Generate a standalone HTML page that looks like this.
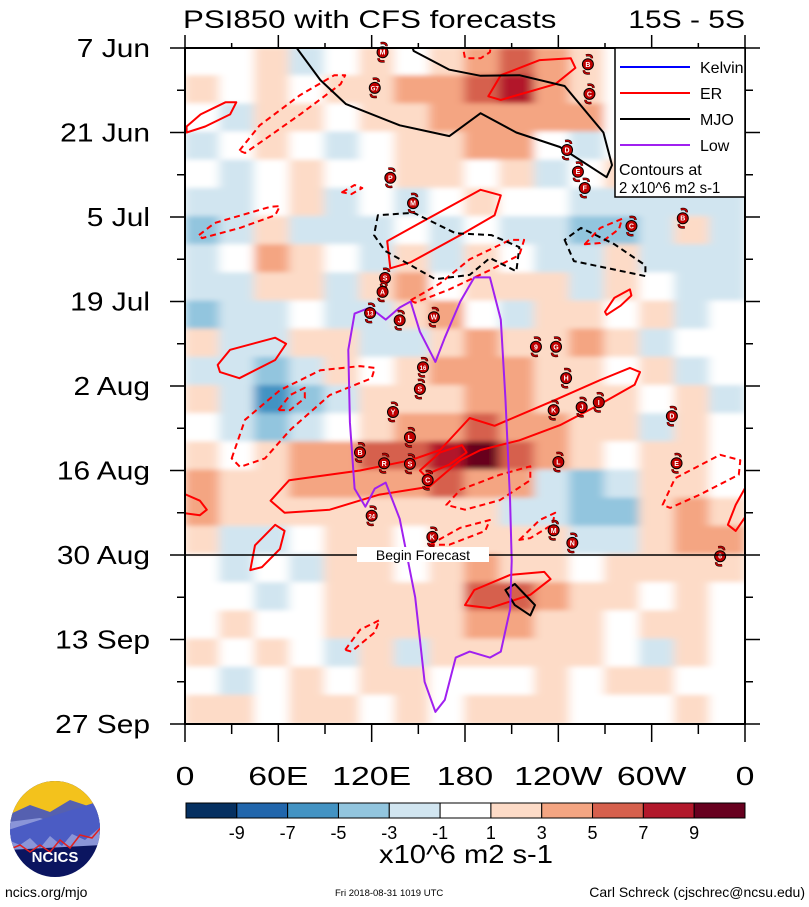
<!DOCTYPE html>
<html><head><meta charset="utf-8"><title>PSI850 with CFS forecasts</title>
<style>
body{margin:0;background:#fff;width:809px;height:907px;overflow:hidden;font-family:"Liberation Sans",Arial,sans-serif}
svg{display:block}
</style></head>
<body>
<svg id="chart" width="809" height="907" viewBox="0 0 809 907" xmlns="http://www.w3.org/2000/svg">
<defs>
<clipPath id="plotclip"><rect x="185" y="48" width="560" height="676"/></clipPath>
<filter id="soft" x="-5%" y="-5%" width="110%" height="110%"><feGaussianBlur stdDeviation="5 2.5"/></filter>
<clipPath id="logoclip"><ellipse cx="55" cy="829" rx="45" ry="48"/></clipPath>
</defs>
<text id="title" x="183" y="28" font-size="25" fill="#000">PSI850 with CFS forecasts</text>
<text id="band" x="745" y="28" font-size="25" text-anchor="end" fill="#000">15S - 5S</text>
<g clip-path="url(#plotclip)"><rect x="185" y="48" width="560" height="676" fill="#fff"/><g id="field" filter="url(#soft)"></g></g>
<g id="contours" clip-path="url(#plotclip)"></g>
<g id="storms"></g>
<g id="axes"></g>
<g id="legend"></g>
<g id="colorbar"></g>
<g>
<g clip-path="url(#logoclip)">
<rect x="8" y="780" width="95" height="100" fill="#0b1560"/>
<rect x="8" y="780" width="95" height="40" fill="#f3c21c"/>
<polygon points="8,815 30,805 50,812 70,800 100,810 103,830 8,835" fill="#5560b0"/>
<polygon points="8,822 40,818 60,825 90,815 103,820 103,845 8,850" fill="#8a95d8"/>
<polygon points="8,840 20,845 30,838 40,848 50,836 62,846 72,834 85,840 103,825 103,800 8,830" fill="#4b5cc4"/>
<polyline points="8,850 20,845 30,852 40,845 50,852 60,840 70,848 80,835 92,838 103,825" fill="none" stroke="#e02020" stroke-width="1.5"/>
</g>
<text x="55" y="862" font-size="15" font-weight="bold" fill="#fff" text-anchor="middle">NCICS</text>
</g>
<text x="5" y="897" font-size="14">ncics.org/mjo</text>
<text x="335" y="896" font-size="9.5">Fri 2018-08-31 1019 UTC</text>
<text x="805" y="897" font-size="14" text-anchor="end">Carl Schreck (cjschrec@ncsu.edu)</text>
</svg>
<script>
// ---------- data ----------
const lonTicks = [0,60,120,180,240,300,360];
const lonTickLabels = ["0","60E","120E","180","120W","60W","0"];
const dayTicks = [0,14,28,42,56,70,84,98,112];
const dayTickLabels = ["7 Jun","21 Jun","5 Jul","19 Jul","2 Aug","16 Aug","30 Aug","13 Sep","27 Sep"];
const forecastDay = 84;
const levelBounds = [-9,-7,-5,-3,-1,1,3,5,7,9];
const levelColors = ["#053061","#2166ac","#4393c3","#92c5de","#d1e5f0","#ffffff","#fddbc7","#f4a582","#d6604d","#b2182b","#67001f"];
const colorbarLabels = ["-9","-7","-5","-3","-1","1","3","5","7","9"];
// field: 24 time rows x 16 longitude columns
const fieldRows = [
[0,0,2,-2,0,2,0,2,4,6,4,2,0,2,0,0],
[2,0,2,0,2,2,3,4,6,8,4,2,0,2,2,0],
[0,-2,2,2,0,2,2,4,4,4,4,3,0,2,0,2],
[-2,0,2,0,-2,0,2,2,4,4,0,-2,0,2,0,0],
[0,-2,0,2,0,0,2,2,0,2,-2,0,2,0,0,2],
[-3,-2,0,2,-2,0,-2,0,2,0,0,-2,-3,-2,-2,-2],
[-4,-2,2,-2,-3,-2,0,-2,0,-2,-2,-4,-4,-2,2,-2],
[-2,0,3,2,0,-2,2,-2,2,0,-2,-2,2,-2,-2,-2],
[-2,-2,2,2,-2,2,3,0,2,2,2,-2,2,0,-2,-2],
[-4,-2,-2,0,-2,-3,2,3,0,-2,2,2,0,2,-2,0],
[2,-2,-2,2,2,-2,-2,2,4,2,2,3,2,-2,0,0],
[-2,-2,-4,-2,2,0,2,3,4,4,2,2,0,2,-2,0],
[2,-2,-6,-4,-2,2,2,2,4,4,2,2,2,0,2,-2],
[0,-2,-4,-2,0,2,4,4,6,4,4,2,2,-2,2,0],
[2,0,2,4,4,6,6,8,10,6,4,2,0,2,2,0],
[4,2,2,4,4,4,4,6,4,4,-2,-4,-2,2,2,0],
[4,2,2,2,2,2,2,2,2,-2,-2,-4,-4,2,4,2],
[2,-2,-2,0,2,2,0,2,2,2,2,-2,-2,2,4,4],
[0,-2,0,-2,2,2,0,2,4,2,2,0,2,2,2,2],
[0,0,-2,0,2,2,2,2,6,6,4,2,2,0,2,0],
[0,2,0,0,2,2,2,2,4,4,2,2,0,2,2,0],
[2,0,2,0,-2,2,-2,2,2,2,2,2,0,-2,2,0],
[0,-2,0,2,0,2,2,0,0,0,2,0,2,2,0,0],
[2,2,0,2,2,0,2,0,2,2,2,0,0,0,2,0]
];
// contours: [lon, day] pairs
const erSolid = [
[[1,13],[10,11],[26,9],[33,9],[29,11],[13,13],[1,14]],
[[195,8],[203,4.5],[228,2],[248,1.7],[251,3.3],[238,6],[203,8.6]],
[[132,36.5],[130,32],[151,29],[190,23.5],[203,24.4],[199,27.7],[177,31],[145,35.5]],
[[270,43.7],[276,41.4],[286,40],[287,41],[280,42.7],[271,44.2]],
[[21,52.5],[29,50],[58,48],[65,49],[58,51.7],[35,54.7],[22.5,53.7]],
[[55,75],[67,71.6],[112.5,70],[145,68.3],[164,66.6],[183,61.3],[199,62.6],[238,58.3],[267,55],[286,53],[292.5,53.7],[289,55.8],[267,59],[241,62.5],[215,65],[190,66.6],[177,68.3],[157,72.7],[125,74],[93,76.5],[64,77]],
[[151,70],[164,67],[178,65.8],[181,67],[170,69],[154,70.8]],
[[362,72],[354,75.7],[349,79],[354,80],[362,77]],
[[-2,73.7],[9.6,75],[14,76.5],[9.6,77.4],[-2,77]],
[[42,86.5],[45,82.4],[58,79],[64,80],[61,83],[49.5,86]],
[[180,92.3],[186,89.8],[209,87.3],[231,86.8],[235,88],[222,90.6],[196,92.8]]
];
const erDashed = [
[[35,17],[48,12.8],[74,7.8],[96,4.5],[103,4.5],[100,6],[74,11],[51,15.2],[38.6,17.4]],
[[9,31],[19,29],[55,26.3],[61,26.2],[58,27.7],[35.4,29.8],[11,31.5]],
[[101,23.9],[109,22.7],[114,23.2],[107,24.2]],
[[145,41.8],[164,39],[183,35],[209,31.8],[218,31.8],[215,34.3],[196,36.8],[170,40],[148,42.2]],
[[257,32.5],[267,29.8],[281,28.3],[279,30],[267,32.3]],
[[178,-1],[180,1.7],[190,1.7],[196,0.7],[197,-1]],
[[30,68],[38.6,61.6],[61,56.7],[87,53.4],[112.5,52.7],[122,53],[120,54.7],[93,57.5],[67.5,63.3],[51.4,68],[35.4,69.4]],
[[60,60],[67.5,57.5],[77,56.3],[77,58],[67.5,60]],
[[168,75.7],[177,73.2],[202.5,70.7],[222,69.3],[222,71.6],[202.5,74.9],[180,76.5]],
[[307,75.7],[315,71.3],[344,67.4],[357,68.3],[356,70.7],[331,74],[312,76.2]],
[[157.5,82.3],[177,79.5],[196,78.2],[193,80],[170,82.3]],
[[215,81.5],[228,78.2],[238,77],[236,79],[222,81.2]],
[[103,99.7],[112.5,96.4],[125,94.8],[122,96.8],[107,100]]
];
const mjoSolid = [
[[69,-1],[87,5.3],[103.5,9.3],[138,12.8],[170,14.6],[190,10.8],[213,14],[241,16.4],[271,21.4],[274.5,19.4],[269,14],[244,6.3],[215,4.5],[190,4.6],[170,3.6],[147,0.5],[145,-1]],
[[206,89.8],[212,88.8],[225,92.3],[222,94],[212,92.3]]
];
const mjoDashed = [
[[124,27.7],[121.5,31],[128.6,33.6],[161,38.3],[183,37.6],[196,34.8],[213,37],[215,33],[197,31],[174,30.7],[147,27.3]],
[[244,31.8],[250,35.3],[296,37.8],[296,36],[276,32.5],[254.6,29.8]]
];
const lowSolid = [
[[109,44],[119,43],[129,45],[138,43],[145,42],[151,47],[161,52],[167,48],[177,42],[186,38],[196,38],[203,45],[206,58],[209,75],[210,85],[209,93],[203,100],[196,101],[183,100],[174,101],[167,108],[161,110],[154,105],[148,91],[138,78],[129,72],[122,73],[116,76],[109,73],[106,62],[105,50]]
];
const stormLon = [127,122,259,260,245.6,252.6,257,132,146.6,287,320,128.6,127,119,138,160,225.6,238.5,153,245,151,133.7,237,255,266,313,144.6,112.5,128,144.6,156,240,316,120,159,237,249,344];
const stormDay = [0.7,6.6,2.7,7.6,16.9,20.5,23.2,21.5,25.7,29.5,28.2,38.1,40.4,43.9,45.1,44.6,49.5,49.5,52.9,54.7,56.5,60.3,60,59.5,58.7,61,64.5,67,68.8,68.9,71.6,68.6,68.8,77.5,81,79.9,82,84.2];
const stormLabel = ["M","G7","B","C","D","E","F","P","M","C","B","S","A","13","J","W","9","G","16","H","S","Y","K","J","I","D","L","B","R","S","C","L","E","24","K","M","N","6"];

// ---------- scales ----------
const X0=185,X1=745,Y0=48,Y1=724;
const xScale = lon => X0 + (lon/360)*(X1-X0);
const yScale = d => Y0 + (d/112)*(Y1-Y0);
const NS="http://www.w3.org/2000/svg";
function mk(tag, attrs, parent){const e=document.createElementNS(NS,tag);for(const k in attrs)e.setAttribute(k,attrs[k]);parent.appendChild(e);return e;}
function colorFor(v){let i=0;while(i<levelBounds.length && v>=levelBounds[i])i++;return levelColors[i];}
function stretch(el,f){try{const w=el.getComputedTextLength();if(w>0){el.setAttribute('textLength',(w*f).toFixed(1));el.setAttribute('lengthAdjust','spacingAndGlyphs');}}catch(e){}}

// field
const field=document.getElementById('field');
const nR=fieldRows.length, nC=fieldRows[0].length;
fieldRows.forEach((row,r)=>{row.forEach((v,c)=>{
  const x=xScale(c*360/nC), x2=xScale((c+1)*360/nC), y=yScale(r*112/nR), y2=yScale((r+1)*112/nR);
  const cell=mk('rect',{x:x-1,y:y-1,width:x2-x+2,height:y2-y+2,fill:colorFor(v)},field);
  
  
});});

// contours
const cg=document.getElementById('contours');
function drawSet(set,color,dash,name,w){set.forEach(pts=>{
  const d=pts.map((p,i)=>(i?'L':'M')+xScale(p[0]).toFixed(1)+','+yScale(p[1]).toFixed(1)).join(' ')+' Z';
  const a={d:d,fill:'none',stroke:color,'stroke-width':w,'stroke-linejoin':'round'};
  if(dash)a['stroke-dasharray']=dash;
  const p=mk('path',a,cg);
  
  
});}
drawSet(erSolid,'#ff0000',null,'er-contour-positive',2);
drawSet(erDashed,'#ff0000','6 4','er-contour-negative',2);
drawSet(mjoSolid,'#000000',null,'mjo-contour-positive',2);
drawSet(mjoDashed,'#000000','6 4','mjo-contour-negative',2);
drawSet(lowSolid,'#a020f0',null,'low-contour',2);

// forecast line
const ax=document.getElementById('axes');
const fy=yScale(forecastDay);
const fl=mk('line',{x1:X0,x2:X1,y1:fy,y2:fy,stroke:'#000','stroke-width':1.5},ax);


const fbg=mk('rect',{x:357,y:fy-8,width:132,height:15,fill:'#fff'},ax);


const ft=mk('text',{x:423,y:fy+5,'font-size':14,'text-anchor':'middle'},ax);
ft.textContent='Begin Forecast';



// storms
const sg=document.getElementById('storms');
stormLon.forEach((lon,i)=>{
  const x=xScale(lon), y=yScale(stormDay[i]);
  const g=mk('g',{},sg);
  
  
  mk('path',{d:`M${x-2},${y-9} q6,-1 6,3 M${x+2},${y+9} q-6,1 -6,-3`,stroke:'#000',fill:'none','stroke-width':2.5},g);
  mk('path',{d:`M${x-2},${y-9} q6,-1 6,3 M${x+2},${y+9} q-6,1 -6,-3`,stroke:'#c00000',fill:'none','stroke-width':1.5},g);
  mk('circle',{cx:x,cy:y,r:5.5,fill:'#c00000',stroke:'#000','stroke-width':1},g);
  const t=mk('text',{x:x,y:y+2.5,'font-size':stormLabel[i].length>1?6:7,'font-weight':'bold','text-anchor':'middle',fill:'#fff'},g);
  t.textContent=stormLabel[i];
});

// frame & ticks
const frame=mk('rect',{x:X0,y:Y0,width:X1-X0,height:Y1-Y0,fill:'none',stroke:'#000','stroke-width':2},ax);


for(let d=0;d<=112;d+=7){
  const y=yScale(d), major=d%14===0, L=major?15:8;
  mk('line',{x1:X0-L,x2:X0,y1:y,y2:y,stroke:'#000','stroke-width':1.5},ax);
  mk('line',{x1:X1,x2:X1+L,y1:y,y2:y,stroke:'#000','stroke-width':1.5},ax);
}
for(let lon=0;lon<=360;lon+=30){
  const x=xScale(lon), major=lon%60===0, L=major?18:10;
  mk('line',{x1:x,x2:x,y1:Y1,y2:Y1+L,stroke:'#000','stroke-width':1.5},ax);
  mk('line',{x1:x,x2:x,y1:Y0-L+5,y2:Y0,stroke:'#000','stroke-width':1.5},ax);
}
dayTicks.forEach((d,i)=>{
  const t=mk('text',{x:150,y:yScale(d)+9,'font-size':26,'text-anchor':'end'},ax);
  t.textContent=dayTickLabels[i];
  
  
  stretch(t,1.15);
});
lonTicks.forEach((l,i)=>{
  const t=mk('text',{x:xScale(l),y:785,'font-size':26,'text-anchor':'middle'},ax);
  t.textContent=lonTickLabels[i];
  
  
  stretch(t,1.3);
});
stretch(document.getElementById('title'),1.25);
stretch(document.getElementById('band'),1.2);

// legend
const lg=document.getElementById('legend');
mk('rect',{x:615,y:48,width:130,height:149,fill:'#fff',stroke:'#000','stroke-width':1.5},lg);
const legNames=['Kelvin','ER','MJO','Low'], legCols=['#0000ff','#ff0000','#000000','#a020f0'];
legNames.forEach((n,i)=>{
  const y=67+i*26;
  const ln=mk('line',{x1:620,x2:690,y1:y,y2:y,stroke:legCols[i],'stroke-width':2},lg);
  
  
  const t=mk('text',{x:700,y:y+6,'font-size':16},lg);
  t.textContent=n;
  
  
});
const lt1=mk('text',{x:619,y:175,'font-size':16},lg);lt1.textContent='Contours at';


const lt2=mk('text',{x:619,y:193,'font-size':16},lg);lt2.textContent='2 x10^6 m2 s-1';


stretch(lt2,0.93);

// colorbar
const cb=document.getElementById('colorbar');
const cbx0=186,cbx1=745,cby=803,cbh=15,bw=(cbx1-cbx0)/levelColors.length;
levelColors.forEach((c,i)=>{
  const r=mk('rect',{x:cbx0+i*bw,y:cby,width:bw,height:cbh,fill:c,stroke:'#000','stroke-width':1},cb);
  
  
});
colorbarLabels.forEach((l,i)=>{
  const t=mk('text',{x:cbx0+(i+1)*bw,y:839,'font-size':18,'text-anchor':'middle'},cb);
  t.textContent=l;
  
  
});
const ut=mk('text',{x:466,y:863,'font-size':26,'text-anchor':'middle'},cb);
ut.textContent='x10^6 m2 s-1';


stretch(ut,1.12);
</script>
</body></html>
